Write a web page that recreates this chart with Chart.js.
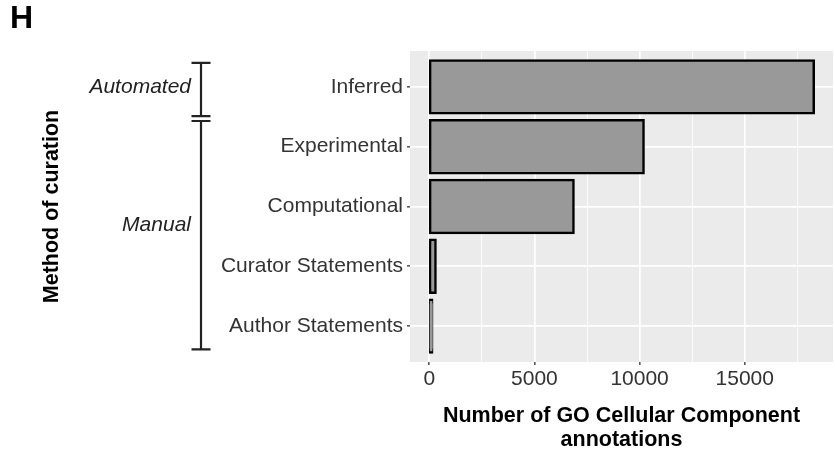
<!DOCTYPE html>
<html>
<head>
<meta charset="utf-8">
<script src="https://cdn.jsdelivr.net/npm/chart.js@4/dist/chart.umd.min.js"></script>
<style>
  html, body { margin: 0; padding: 0; background: #ffffff; }
  canvas { display: block; }
</style>
</head>
<body>
<canvas id="chart" width="835" height="461"></canvas>
<script>
// Evidence categories, top to bottom
const categories = ['Inferred', 'Experimental', 'Computational', 'Curator Statements', 'Author Statements'];
// Number of GO Cellular Component annotations per evidence category
const annotationCounts = [18280, 10190, 6860, 300, 140];
// Value-axis ticks (minor ticks carry no label)
const xTickValues = [0, 2500, 5000, 7500, 10000, 12500, 15000, 17500];
const xTickLabels = ['0', '', '5000', '', '10000', '', '15000', ''];
// Curation method groups shown as brackets beside the category labels
const curationGroups = ['Automated', 'Manual'];

const FONT = '"Liberation Sans", Arial, Helvetica, sans-serif';
const xMax = Math.max(...annotationCounts);

// Bracket extents and label anchors, in category units of the y scale
const groupSpans = [[-0.40, 0.49], [0.57, 4.39]];
const groupLabelAt = [0, 2.32];

const panelBackground = {
  id: 'panelBackground',
  beforeDraw(chart) {
    const { ctx, chartArea: a } = chart;
    ctx.save();
    ctx.fillStyle = '#EBEBEB';
    ctx.fillRect(a.left, a.top, a.right - a.left, a.bottom - a.top);
    ctx.restore();
  }
};

const curationBrackets = {
  id: 'curationBrackets',
  afterDraw(chart) {
    const { ctx } = chart;
    const y = chart.scales.y;
    const lineX = 201, capHalf = 9.5, labelRight = 191;
    ctx.save();
    ctx.strokeStyle = '#222222';
    ctx.lineWidth = 2.2;
    ctx.lineCap = 'butt';
    curationGroups.forEach((name, i) => {
      const y1 = y.getPixelForValue(groupSpans[i][0]);
      const y2 = y.getPixelForValue(groupSpans[i][1]);
      ctx.beginPath();
      ctx.moveTo(lineX, y1); ctx.lineTo(lineX, y2);
      ctx.moveTo(lineX - capHalf, y1); ctx.lineTo(lineX + capHalf, y1);
      ctx.moveTo(lineX - capHalf, y2); ctx.lineTo(lineX + capHalf, y2);
      ctx.stroke();
      ctx.fillStyle = '#222222';
      ctx.font = 'italic 21px ' + FONT;
      ctx.textAlign = 'right';
      ctx.textBaseline = 'middle';
      ctx.fillText(name, labelRight, y.getPixelForValue(groupLabelAt[i]));
    });
    ctx.restore();
  }
};

new Chart(document.getElementById('chart'), {
  type: 'bar',
  data: {
    datasets: [{
      data: categories.map((c, i) => ({ x: annotationCounts[i], y: i })),
      backgroundColor: '#999999',
      borderColor: '#000000',
      borderWidth: 2.5,
      borderSkipped: false,
      // outline centred on the bar edge
      inflateAmount: 1.25,
      barPercentage: 0.885,
      categoryPercentage: 1
    }]
  },
  options: {
    indexAxis: 'y',
    responsive: false,
    animation: false,
    devicePixelRatio: 1,
    layout: { padding: { left: 10, right: 2, top: 0, bottom: 4 } },
    plugins: {
      legend: { display: false },
      tooltip: { enabled: false },
      title: {
        display: true,
        text: 'H',
        align: 'start',
        color: '#000000',
        font: { family: FONT, size: 32, weight: 'bold', lineHeight: 1.2 },
        padding: { top: 0, bottom: 12.6 }
      }
    },
    scales: {
      x: {
        type: 'linear',
        position: 'bottom',
        min: -0.05 * xMax,
        max: 1.05 * xMax,
        afterBuildTicks: s => { s.ticks = xTickValues.map(v => ({ value: v })); },
        ticks: {
          autoSkip: false,
          maxRotation: 0,
          padding: 2,
          color: '#333333',
          font: { family: FONT, size: 21 },
          callback: v => xTickLabels[xTickValues.indexOf(v)]
        },
        grid: {
          color: '#FFFFFF',
          lineWidth: ctx => (xTickLabels[ctx.index] ? 1.7 : 0.8),
          drawTicks: true,
          tickLength: 3,
          tickWidth: 1.3,
          tickColor: ctx => (xTickLabels[ctx.index] ? '#333333' : 'rgba(0,0,0,0)')
        },
        border: { display: false },
        title: {
          display: true,
          text: ['Number of GO Cellular Component', 'annotations'],
          color: '#000000',
          font: { family: FONT, size: 21.5, weight: 'bold', lineHeight: 1.1 },
          padding: { top: 10, bottom: 5.5 }
        }
      },
      y: {
        type: 'linear',
        reverse: true,
        offset: false,
        min: -0.6,
        max: 4.6,
        afterBuildTicks: s => { s.ticks = categories.map((c, i) => ({ value: i })); },
        afterFit: s => { s.width = 400; },
        ticks: {
          autoSkip: false,
          padding: 4,
          color: '#333333',
          font: { family: FONT, size: 21 },
          callback: v => categories[v]
        },
        grid: {
          offset: false,
          color: '#FFFFFF',
          lineWidth: 1.7,
          drawTicks: true,
          tickLength: 3,
          tickWidth: 1.3,
          tickColor: '#333333'
        },
        border: { display: false },
        title: {
          display: true,
          text: 'Method of curation',
          color: '#000000',
          font: { family: FONT, size: 21.5, weight: 'bold', lineHeight: 1.2 },
          padding: { top: 29, bottom: 0 }
        }
      }
    }
  },
  plugins: [panelBackground, curationBrackets]
});
</script>
</body>
</html>
